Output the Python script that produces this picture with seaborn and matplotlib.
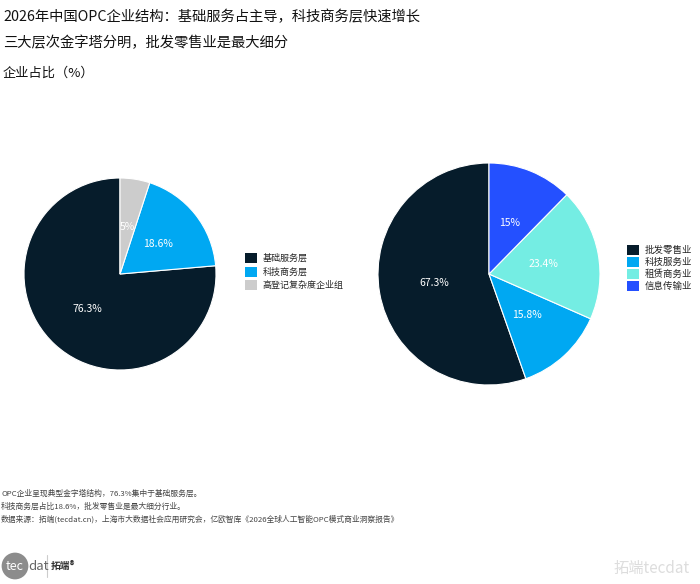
import matplotlib
matplotlib.use("Agg")
import matplotlib.pyplot as plt
import seaborn as sns
from matplotlib.patches import Patch

# 数据
layers = ['基础服务层', '科技商务层', '高登记复杂度企业组']
layer_share = [76.3, 18.6, 5]
layer_labels = ['76.3%', '18.6%', '5%']

sectors = ['批发零售业', '科技服务业', '租赁商务业', '信息传输业']
sector_share = [67.3, 15.8, 23.4, 15]
sector_labels = ['67.3%', '15.8%', '23.4%', '15%']

sns.set_theme(style="white")
plt.rcParams['font.family'] = ['Noto Sans CJK SC', 'DejaVu Sans']

left_colors = sns.color_palette(['#061c2b', '#00a8f2', '#cccccc'])
right_colors = sns.color_palette(['#061c2b', '#00a8f2', '#74ede3', '#2450ff'])

W, H = 700, 584
fig = plt.figure(figsize=(7, 5.84), dpi=100)


def px_axes(x, y, w, h):
    return fig.add_axes([x / W, 1 - (y + h) / H, w / W, h / H])


def draw_pie(ax, vals, labels, colors):
    wedges, texts = ax.pie(vals, labels=labels, colors=colors, startangle=90,
                           counterclock=True, labeldistance=0.5,
                           wedgeprops=dict(edgecolor='white', linewidth=0.8),
                           textprops=dict(color='white', fontsize=7.5, ha='center', va='center'))
    ax.set_xlim(-1, 1)
    ax.set_ylim(-1, 1)
    ax.set_aspect('equal')
    ax.axis('off')
    return wedges


ax1 = px_axes(24, 178, 192, 192)
draw_pie(ax1, layer_share, layer_labels, left_colors)

ax2 = px_axes(378, 163, 222, 222)
draw_pie(ax2, sector_share, sector_labels, right_colors)

# 图例
h1 = [Patch(facecolor=c, edgecolor='none') for c in left_colors]
fig.legend(h1, layers, loc='upper left', bbox_to_anchor=(245 / W, 1 - 253 / H),
           frameon=False, fontsize=6.5, handlelength=1.33, handleheight=1.33,
           handletextpad=0.65, labelspacing=0.39, borderpad=0, borderaxespad=0)

h2 = [Patch(facecolor=c, edgecolor='none') for c in right_colors]
fig.legend(h2, sectors, loc='upper left', bbox_to_anchor=(627 / W, 1 - 245 / H),
           frameon=False, fontsize=6.8, handlelength=1.27, handleheight=1.27,
           handletextpad=0.62, labelspacing=0.18, borderpad=0, borderaxespad=0)

# 标题
fig.text(3 / W, 1 - 17 / H, '2026年中国OPC企业结构：基础服务占主导，科技商务层快速增长',
         fontsize=10.3, color='#111111', va='center')
fig.text(3 / W, 1 - 43 / H, '三大层次金字塔分明，批发零售业是最大细分',
         fontsize=10.3, color='#111111', va='center')
fig.text(3 / W, 1 - 73 / H, '企业占比（%）', fontsize=9.5, color='#111111', va='center')

# 脚注
notes = ['OPC企业呈现典型金字塔结构，76.3%集中于基础服务层。',
         '科技商务层占比18.6%，批发零售业是最大细分行业。',
         '数据来源：拓端(tecdat.cn)，上海市大数据社会应用研究会，亿欧智库《2026全球人工智能OPC模式商业洞察报告》']
for i, t in enumerate(notes):
    fig.text(1 / W, 1 - (494 + i * 12.5) / H, t, fontsize=5.6, color='#444444', va='center')

# logo
fig.text(15 / W, 1 - 566 / H, 'tec', fontsize=9, color='white', ha='center', va='center',
         bbox=dict(boxstyle='circle,pad=0.35', fc='#8c8c8c', ec='none'))
fig.text(28 / W, 1 - 566 / H, 'dat', fontsize=9.5, color='#666666', va='center')
fig.add_artist(plt.Line2D([47 / W, 47 / W], [1 - 555 / H, 1 - 577 / H], color='#cccccc', lw=0.8))
fig.text(51 / W, 1 - 566 / H, '拓端®', fontsize=7, color='#333333', va='center', fontweight='bold')

# 水印
fig.text(690 / W, 1 - 568 / H, '拓端tecdat', fontsize=11, color='#dddddd', ha='right', va='center')

fig.savefig('out.png', dpi=100)
